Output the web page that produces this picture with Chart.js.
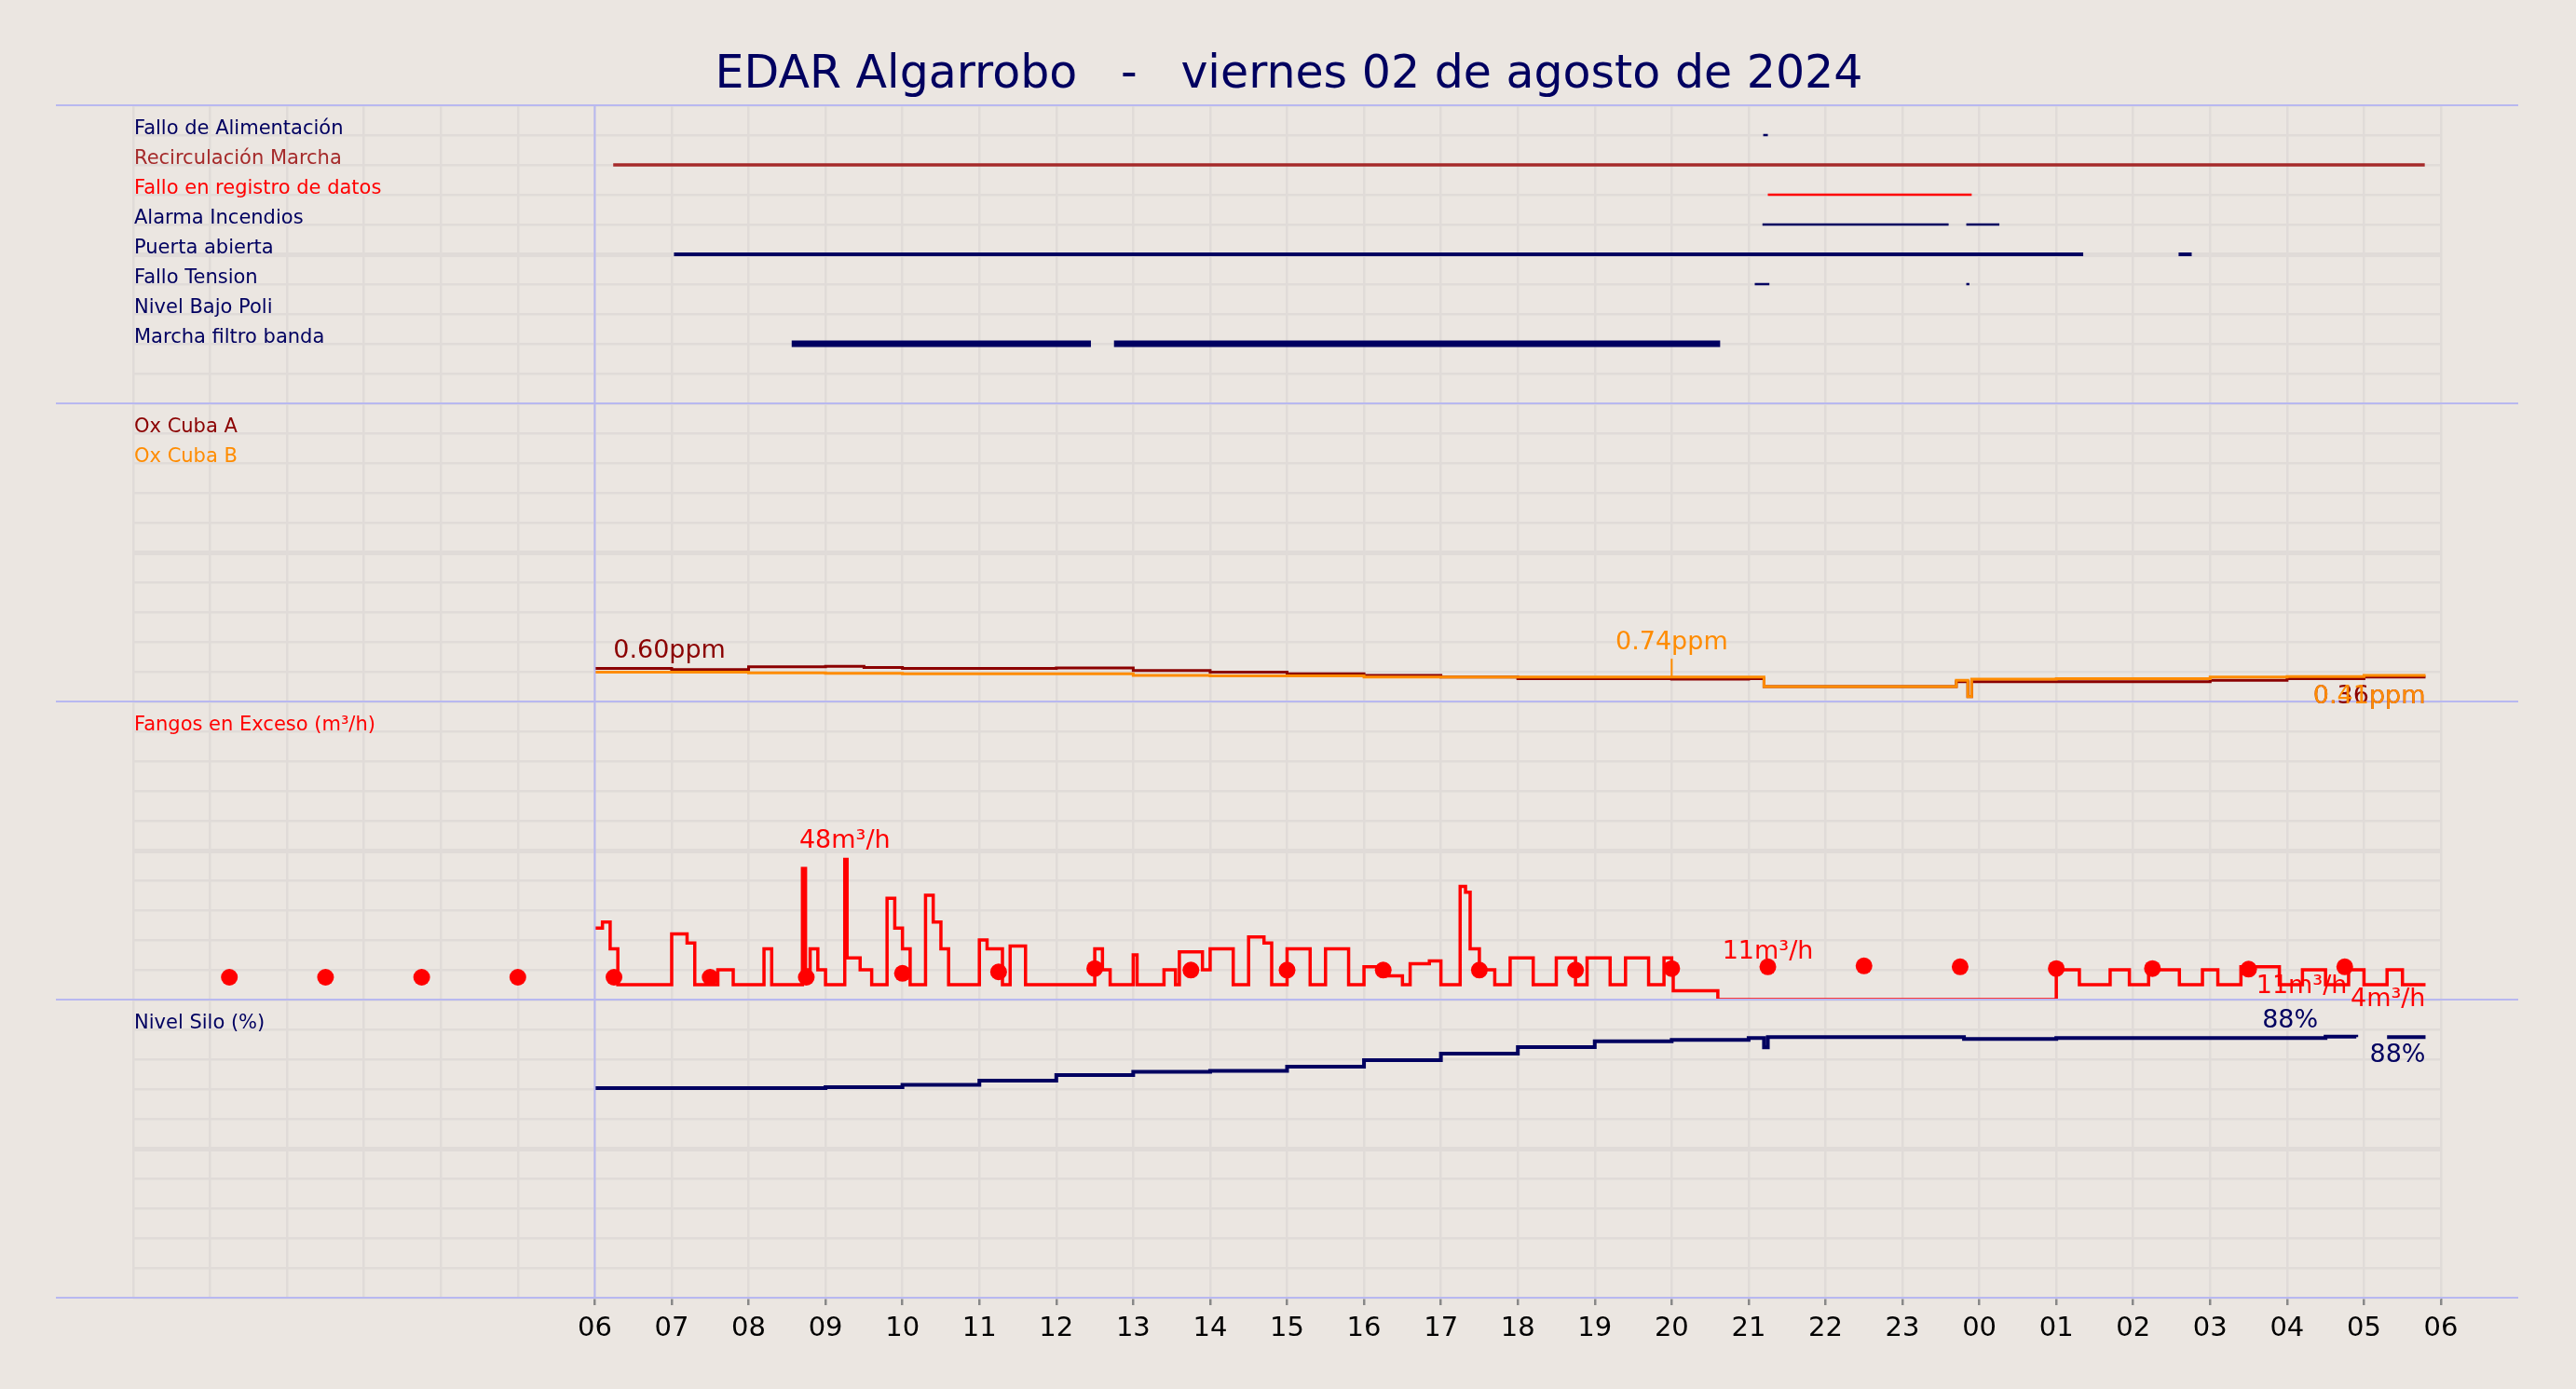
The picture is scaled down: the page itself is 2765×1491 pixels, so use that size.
<!DOCTYPE html>
<html>
<head>
<meta charset="utf-8">
<script src="https://cdn.jsdelivr.net/npm/chart.js@4"></script>
<style>
  html, body { margin: 0; padding: 0; background: #ebe6e1; }
  #wrap { width: 2765px; height: 1491px; }
</style>
</head>
<body>
<div id="wrap"><canvas id="chart" width="2765" height="1491"></canvas></div>
<script>
'use strict';

// --- Datos ----------------------------------------------------------------

const TITLE = 'EDAR Algarrobo   -   viernes 02 de agosto de 2024';
const X_MIN = 0, X_MAX = 30; // horas desde las 00 del dia anterior

const NAVY = '#000060';

// Panel de estados: nombre, color, grosor, tramos [desde, hasta] en horas
const statusNames = [
  'Fallo de Alimentación', 'Recirculación Marcha', 'Fallo en registro de datos',
  'Alarma Incendios', 'Puerta abierta', 'Fallo Tension', 'Nivel Bajo Poli', 'Marcha filtro banda',
];
const statusColors = [NAVY, '#a52a2a', '#ff0000', NAVY, NAVY, NAVY, NAVY, NAVY];
const statusWidths = [2.5, 3.5, 2.5, 2.5, 4, 2.5, 2.5, 7];
const statusSegments = [
  [[21.19, 21.25]],
  [[6.24, 29.79]],
  [[21.25, 23.9]],
  [[21.18, 23.6], [23.83, 24.26]],
  [[7.03, 25.35], [26.59, 26.76]],
  [[21.08, 21.27], [23.83, 23.87]],
  [],
  [[8.56, 12.45], [12.75, 20.63]],
];

// Oxigeno (ppm)
const oxHours = [6.0, 7, 8, 9, 9.5, 10, 11, 12, 13, 14, 15, 16, 17, 18, 19, 20, 21, 21.2, 23.6, 23.7, 23.85, 23.9, 25, 26, 27, 28, 29, 29.8];
const oxA     = [0.62, 0.60, 0.65, 0.66, 0.64, 0.62, 0.62, 0.63, 0.58, 0.55, 0.52, 0.49, 0.46, 0.43, 0.43, 0.42, 0.43, 0.28, 0.28, 0.37, 0.09, 0.37, 0.37, 0.37, 0.40, 0.43, 0.46, 0.46];
const oxB     = [0.55, 0.55, 0.54, 0.53, 0.53, 0.52, 0.52, 0.52, 0.49, 0.48, 0.48, 0.46, 0.46, 0.46, 0.46, 0.46, 0.46, 0.28, 0.28, 0.40, 0.09, 0.42, 0.43, 0.43, 0.46, 0.47, 0.49, 0.49];

// Fangos en exceso (m3/h), escalonado
const fangoHours = [6.0, 6.1, 6.2, 6.3, 7.0, 7.2, 7.3, 7.6, 7.8, 8.2, 8.3, 8.7, 8.74, 8.8, 8.9, 9.0, 9.25, 9.28, 9.45, 9.6,
  9.8, 9.9, 10.0, 10.1, 10.3, 10.4, 10.5, 10.6, 11.0, 11.1, 11.3, 11.4, 11.6, 12.5, 12.6, 12.7, 13.0, 13.05, 13.4, 13.55,
  13.6, 13.9, 14.0, 14.3, 14.5, 14.7, 14.8, 15.0, 15.3, 15.5, 15.8, 16.0, 16.3, 16.5, 16.6, 16.85, 17.0, 17.25, 17.32, 17.38,
  17.5, 17.7, 17.9, 18.2, 18.5, 18.75, 18.9, 19.2, 19.4, 19.7, 19.9, 20.0, 20.02, 20.6, 25.0, 25.3, 25.7, 25.95, 26.2, 26.6,
  26.9, 27.1, 27.4, 27.9, 28.2, 28.5, 28.8, 29.0, 29.3, 29.5, 29.8];
const fangoValues = [24, 26, 17, 5, 22, 19, 5, 10, 5, 17, 5, 44, 10, 17, 10, 5, 47, 14, 10, 5,
  34, 24, 17, 5, 35, 26, 17, 5, 20, 17, 5, 18, 5, 17, 10, 5, 15, 5, 10, 5,
  16, 10, 17, 5, 21, 19, 5, 17, 5, 17, 5, 11, 8, 5, 12, 13, 5, 38, 36, 17,
  10, 5, 14, 5, 14, 5, 14, 5, 14, 5, 14, 10, 3, 0, 10, 5, 10, 5, 10, 5,
  10, 5, 11, 5, 10, 5, 10, 5, 10, 5, 5];
// Medias horarias (puntos)
const fangoDotHours  = [1.25, 2.5, 3.75, 5.0, 6.25, 7.5, 8.75, 10.0, 11.25, 12.5, 13.75, 15.0, 16.25, 17.5, 18.75, 20.0, 21.25, 22.5, 23.75, 25.0, 26.25, 27.5, 28.75];
const fangoDotValues = [7.5, 7.5, 7.5, 7.5, 7.5, 7.5, 7.5, 8.8, 9.3, 10.4, 9.9, 9.9, 9.9, 9.9, 9.9, 10.4, 11, 11.3, 11, 10.4, 10.4, 10.2, 11];

// Nivel silo (%)
const siloHours  = [6.0, 8, 9, 10, 11, 12, 13, 14, 15, 16, 17, 18, 19, 20, 21, 21.15, 21.2, 21.25, 23.8, 25, 28.5, 28.9];
const siloValues = [70.3, 70.3, 70.6, 71.4, 72.8, 74.7, 75.8, 76.1, 77.5, 79.7, 81.9, 84.1, 86.0, 86.5, 87.1, 87.1, 84.0, 87.4, 86.8, 87.1, 87.6, 87.4];
const siloTailHours  = [29.3, 29.8];
const siloTailValues = [87.4, 87.4];

// Etiquetas de panel y de valores
const panelLabels = [
  { axis: 'yO', v: 5.04, text: 'Ox Cuba A', color: '#8b0000' },
  { axis: 'yO', v: 4.48, text: 'Ox Cuba B', color: '#ff8c00' },
  { axis: 'yF', v: 90, text: 'Fangos en Exceso (m³/h)', color: '#ff0000' },
  { axis: 'yN', v: 90, text: 'Nivel Silo (%)', color: NAVY },
];
const valueLabels = [
  { axis: 'yO', x: 6.24, v: 0.95, text: '0.60ppm', color: '#8b0000', align: 'left' },
  { axis: 'yO', x: 20.0, v: 1.1, text: '0.74ppm', color: '#ff8c00', align: 'center', lead: 0.46 },
  { axis: 'yO', x: 29.8, v: 0.09, text: '0.36ppm', color: '#8b0000', align: 'right' },
  { axis: 'yO', x: 29.8, v: 0.09, text: '0.41ppm', color: '#ff8c00', align: 'right' },
  { axis: 'yF', x: 9.25, v: 53, text: '48m³/h', color: '#ff0000', align: 'center' },
  { axis: 'yF', x: 21.25, v: 16, text: '11m³/h', color: '#ff0000', align: 'center' },
  { axis: 'yF', x: 28.19, v: 4.4, text: '11m³/h', color: '#ff0000', align: 'center' },
  { axis: 'yF', x: 29.8, v: 0, text: '4m³/h', color: '#ff0000', align: 'right' },
  { axis: 'yN', x: 28.04, v: 92.9, text: '88%', color: NAVY, align: 'center' },
  { axis: 'yN', x: 29.8, v: 81.3, text: '88%', color: NAVY, align: 'right' },
];

// --- Helpers --------------------------------------------------------------

const FONT = '"DejaVu Sans", sans-serif';

function pts(xs, ys) { return xs.map((x, i) => ({ x, y: ys[i] })); }

function segPoints(segs, y) {
  const out = [];
  segs.forEach(([a, b]) => { out.push({ x: a, y }, { x: b, y }, { x: b, y: null }); });
  return out;
}

function yAxis(min, max, weight) {
  return {
    type: 'linear', position: 'left', stack: 'panels', stackWeight: weight,
    min, max, offset: false,
    ticks: { display: false, count: 11 },
    grid: {
      color: '#e0dbd8', drawTicks: false,
      lineWidth: (c) => (c.index === 5 ? 5 : 2.5),
    },
    border: { display: false },
    afterFit: (s) => { s.width = 0; },
  };
}

// --- Datasets -------------------------------------------------------------

const datasets = [];
statusNames.forEach((name, i) => {
  datasets.push({
    label: name, yAxisID: 'yS', data: segPoints(statusSegments[i], 9 - i),
    borderColor: statusColors[i], borderWidth: statusWidths[i], pointRadius: 0, spanGaps: false,
  });
});
// stepped 'before': cada valor se mantiene hasta el siguiente punto
datasets.push({ label: 'Ox Cuba B', yAxisID: 'yO', data: pts(oxHours, oxB), borderColor: '#ff8c00', borderWidth: 3, pointRadius: 0, stepped: 'before' });
datasets.push({ label: 'Ox Cuba A', yAxisID: 'yO', data: pts(oxHours, oxA), borderColor: '#8b0000', borderWidth: 3, pointRadius: 0, stepped: 'before' });
datasets.push({ label: 'Fangos', yAxisID: 'yF', data: pts(fangoHours, fangoValues), borderColor: '#ff0000', borderWidth: 3.5, pointRadius: 0, stepped: 'before' });
datasets.push({ label: 'Fangos media', yAxisID: 'yF', data: pts(fangoDotHours, fangoDotValues), showLine: false, pointRadius: 9, pointBackgroundColor: '#ff0000', pointBorderWidth: 0 });
datasets.push({ label: 'Silo', yAxisID: 'yN', data: pts(siloHours, siloValues), borderColor: NAVY, borderWidth: 4, pointRadius: 0, stepped: 'before' });
datasets.push({ label: 'Silo fin', yAxisID: 'yN', data: pts(siloTailHours, siloTailValues), borderColor: NAVY, borderWidth: 4, pointRadius: 0 });

// --- Plugins de dibujo ----------------------------------------------------

const decor = {
  id: 'decor',
  beforeDraw(chart) {
    const { ctx } = chart;
    ctx.save();
    ctx.fillStyle = '#ebe6e1';
    ctx.fillRect(0, 0, chart.width, chart.height);
    ctx.restore();
  },
  afterDatasetsDraw(chart) {
    const { ctx, chartArea: a, scales } = chart;
    const x = scales.x;
    ctx.save();
    // separadores de panel y linea de las 06
    ctx.strokeStyle = '#b8b8f0';
    ctx.lineWidth = 2;
    const edges = [a.top, scales.yS.bottom, scales.yO.bottom, scales.yF.bottom, a.bottom];
    edges.forEach((y) => { ctx.beginPath(); ctx.moveTo(60, y); ctx.lineTo(2703, y); ctx.stroke(); });
    ctx.beginPath(); ctx.moveTo(x.getPixelForValue(6), a.top); ctx.lineTo(x.getPixelForValue(6), a.bottom); ctx.stroke();

    ctx.textBaseline = 'bottom';
    ctx.font = '21px ' + FONT;
    ctx.textAlign = 'left';
    statusNames.forEach((n, i) => {
      ctx.fillStyle = statusColors[i];
      ctx.fillText(n, a.left + 1, scales.yS.getPixelForValue(9 - i) + 4);
    });
    panelLabels.forEach((l) => {
      ctx.fillStyle = l.color;
      ctx.fillText(l.text, a.left + 1, scales[l.axis].getPixelForValue(l.v) + 4);
    });

    ctx.font = '27px ' + FONT;
    ctx.textBaseline = 'middle';
    valueLabels.forEach((l) => {
      const px = x.getPixelForValue(l.x), py = scales[l.axis].getPixelForValue(l.v);
      ctx.fillStyle = l.color;
      ctx.textAlign = l.align;
      ctx.fillText(l.text, px, py);
      if (l.lead != null) {
        ctx.strokeStyle = l.color;
        ctx.lineWidth = 2;
        ctx.beginPath(); ctx.moveTo(px, py + 17); ctx.lineTo(px, scales[l.axis].getPixelForValue(l.lead)); ctx.stroke();
      }
    });

    // titulo
    ctx.font = '49px ' + FONT;
    ctx.fillStyle = NAVY;
    ctx.textAlign = 'center';
    ctx.fillText(TITLE, chart.width / 2 + 1, 81);
    ctx.restore();
  },
};

// --- Chart ----------------------------------------------------------------

Chart.defaults.font.family = FONT;

new Chart(document.getElementById('chart').getContext('2d'), {
  type: 'line',
  data: { datasets },
  options: {
    responsive: false,
    animation: false,
    devicePixelRatio: 1,
    layout: { padding: { left: 143, right: 145, top: 113, bottom: 0 } },
    plugins: { legend: { display: false }, tooltip: { enabled: false } },
    scales: {
      x: {
        type: 'linear', min: X_MIN, max: X_MAX,
        ticks: {
          stepSize: 1, autoSkip: false, maxRotation: 0, color: '#000', font: { size: 29 }, padding: 8,
          callback: (v) => (v >= 6 && Number.isInteger(v) ? String(v % 24).padStart(2, '0') : ''),
        },
        grid: { color: '#e0dbd8', lineWidth: 2.5, tickLength: 8, tickColor: (c) => (c.tick && c.tick.value >= 6 ? '#888' : 'rgba(0,0,0,0)') },
        border: { display: false },
        afterFit: (s) => { s.height = 98; },
      },
      yN: yAxis(0, 100, 1),
      yF: yAxis(0, 100, 1),
      yO: yAxis(0, 5.6, 1),
      yS: yAxis(0, 10, 1),
    },
  },
  plugins: [decor],
});
</script>
</body>
</html>
